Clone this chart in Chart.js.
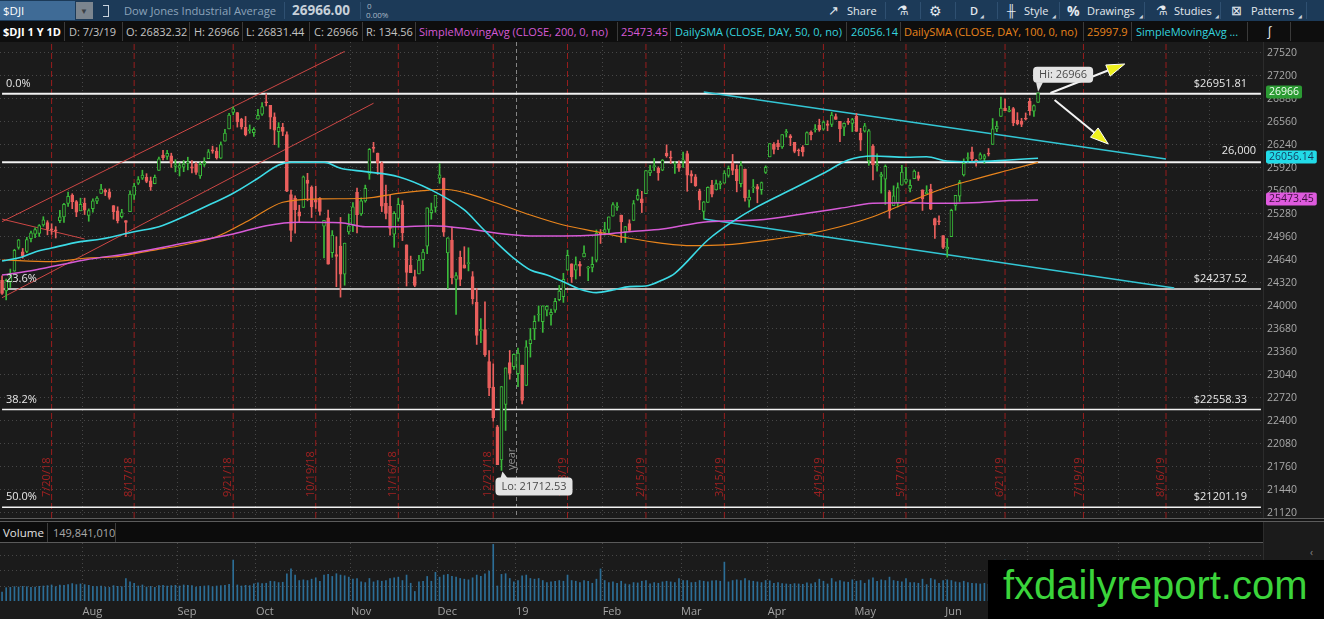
<!DOCTYPE html>
<html>
<head>
<meta charset="utf-8">
<title>$DJI 1 Y 1D</title>
<script src="https://cdn.jsdelivr.net/npm/chart.js"></script>
<style>
  body { margin: 0; width: 1324px; height: 619px; overflow: hidden; position: relative; background: #1b1b1b; font-family: 'Open Sans', sans-serif; }
  .a { position: absolute; white-space: nowrap; }
  .t1 { top: 0; line-height: 21px; font-size: 11px; color: #e3e9ef; }
  .t2 { top: 21px; line-height: 21px; font-size: 11px; color: #c4c4c4; }
  .d1 { top: 2px; width: 1px; height: 17px; background: #2f5071; }
  .d2 { top: 22px; width: 1px; height: 19px; background: #3a3a3a; }
  .mk { top: 13px; font-size: 5px; color: #c9d3dd; }
  canvas { position: absolute; left: 0; }
</style>
</head>
<body>
<!-- toolbar -->
<div class="a" style="left:0;top:0;width:1324px;height:21px;background:#1c3a58"></div>
<div class="a" style="left:0;top:1px;width:75px;height:19px;background:#3f6b96"></div>
<span class="a t1" style="left:3px;color:#fff;font-size:11.5px">$DJI</span>
<div class="a" style="left:76px;top:2px;width:17px;height:17px;background:#7b858f"></div>
<span class="a" style="left:80px;top:5px;font-size:8px;color:#3a4046">▼</span>
<div class="a" style="left:103px;top:5px;width:5px;height:10px;border:1px solid #c9d3dd;border-left:none"></div>
<span class="a t1" style="left:124px;color:#8ca3ba;font-size:11.2px">Dow Jones Industrial Average</span>
<div class="a d1" style="left:284px"></div>
<span class="a t1" id="lastPx" style="left:292px;font-weight:700;font-size:13.5px;color:#c7d0d9"></span>
<div class="a d1" style="left:360px"></div>
<span class="a" style="left:367px;top:0;font-size:8px;color:#a9b8c6">0</span>
<span class="a" style="left:366px;top:9px;font-size:8px;color:#a9b8c6">0.00%</span>

<span class="a t1" style="left:828px;font-size:13px">↗</span>
<span class="a t1" style="left:847px">Share</span>
<div class="a d1" style="left:885px"></div>
<span class="a t1" style="left:897px;font-size:13px">⚗</span>
<div class="a d1" style="left:920px"></div>
<span class="a t1" style="left:929px;font-size:14px">⚙</span>
<div class="a d1" style="left:955px"></div>
<span class="a t1" style="left:970px;font-weight:600">D</span>
<span class="a mk" style="left:980px">◢</span>
<div class="a d1" style="left:997px"></div>
<span class="a t1" style="left:1007px;font-size:12px">╫</span>
<span class="a t1" style="left:1024px">Style</span>
<span class="a mk" style="left:1052px">◢</span>
<div class="a d1" style="left:1059px"></div>
<span class="a t1" style="left:1067px;font-weight:700;font-size:14px">%</span>
<span class="a t1" style="left:1087px">Drawings</span>
<span class="a mk" style="left:1139px">◢</span>
<div class="a d1" style="left:1144px"></div>
<span class="a t1" style="left:1156px;font-size:13px">⚗</span>
<span class="a t1" style="left:1174px">Studies</span>
<span class="a mk" style="left:1215px">◢</span>
<div class="a d1" style="left:1220px"></div>
<span class="a t1" style="left:1231px;font-size:13px">⊠</span>
<span class="a t1" style="left:1251px">Patterns</span>
<span class="a mk" style="left:1298px">◢</span>
<div class="a d1" style="left:1306px"></div>

<!-- study header -->
<div class="a" style="left:0;top:21px;width:1324px;height:21px;background:#0e0e0e"></div>
<span class="a t2" style="left:3px;color:#fff;font-weight:700">$DJI 1 Y 1D</span>
<div class="a d2" style="left:64px"></div>
<span class="a t2" style="left:69px">D: 7/3/19</span>
<div class="a d2" style="left:122px"></div>
<span class="a t2" id="hO" style="left:126px"></span>
<div class="a d2" style="left:189px"></div>
<span class="a t2" id="hH" style="left:194px"></span>
<div class="a d2" style="left:242px"></div>
<span class="a t2" id="hL" style="left:246px"></span>
<div class="a d2" style="left:309px"></div>
<span class="a t2" id="hC" style="left:314px"></span>
<div class="a d2" style="left:362px"></div>
<span class="a t2" id="hR" style="left:366px"></span>
<div class="a d2" style="left:415px"></div>
<span class="a t2" style="left:419px;color:#d65ad6">SimpleMovingAvg (CLOSE, 200, 0, no)</span>
<div class="a d2" style="left:617px"></div>
<span class="a t2" id="h200" style="left:621px;color:#d65ad6"></span>
<div class="a d2" style="left:670px"></div>
<span class="a t2" style="left:675px;color:#35d3df">DailySMA (CLOSE, DAY, 50, 0, no)</span>
<div class="a d2" style="left:846px"></div>
<span class="a t2" id="h50" style="left:851px;color:#35d3df"></span>
<div class="a d2" style="left:900px"></div>
<span class="a t2" style="left:904px;color:#e8841c">DailySMA (CLOSE, DAY, 100, 0, no)</span>
<div class="a d2" style="left:1083px"></div>
<span class="a t2" id="h100" style="left:1087px;color:#e8841c"></span>
<div class="a d2" style="left:1131px"></div>
<span class="a t2" style="left:1136px;color:#35d3df">SimpleMovingAvg ...</span>
<div class="a d2" style="left:1247px"></div>
<span class="a t2" style="left:1267px;color:#eee;font-size:13px">∫</span>
<div class="a d2" style="left:1290px"></div>

<canvas id="main" width="1324" height="476" style="top:42px"></canvas>
<div class="a" style="left:1263px;top:42px;width:1px;height:577px;background:#2c2c2c"></div>

<!-- panel separator and volume header -->
<div class="a" style="left:0;top:518px;width:1324px;height:2px;border-top:1px solid #5c5c5c;border-bottom:1px solid #5c5c5c;background:#141414"></div>
<div class="a" style="left:0;top:522px;width:1263px;height:21px;background:#0c0c0c"></div>
<span class="a" style="left:3px;top:522px;line-height:21px;font-size:11.5px;color:#e2e2e2">Volume</span>
<div class="a" style="left:47px;top:523px;width:1px;height:19px;background:#3c3c3c"></div>
<span class="a" id="volHead" style="left:53px;top:522px;line-height:21px;font-size:11px;color:#a8a8a8"></span>
<div class="a" style="left:115px;top:523px;width:1px;height:19px;background:#3c3c3c"></div>
<div class="a" style="left:0;top:542px;width:1263px;height:1px;background:#5a5a5a"></div>
<span class="a" style="left:1310px;top:545px;font-size:10px;color:#8a8a8a">‹</span>

<canvas id="vol" width="1324" height="76" style="top:543px"></canvas>

<div class="a" style="left:988px;top:560px;width:336px;height:59px;background:#000">
  <div style="padding-left:15px;line-height:50px;font-family:'Liberation Sans',Arial,sans-serif;font-size:40px;color:#3bd43b">fxdailyreport.com</div>
</div>

<script>
// ---- calendar (trading days from 7/3/18, plus the empty expansion area) ----
const firstDay = '2018-07-03';
const barCount = 306;
const holidays = ['2018-07-04', '2018-09-03', '2018-11-22', '2018-12-05', '2018-12-25', '2019-01-01',
  '2019-01-21', '2019-02-18', '2019-04-19', '2019-05-27', '2019-07-04', '2019-09-02'];

// ---- daily OHLC, 7/3/18 .. 7/3/19 (one line per month) ----
const opens = [
  24357,24208,24335,24483,24816,24754,24760,24937,25000,25010,25129,25162,25070,25047,25187,25239,25427,25544,25451,25324,
  25429,25259,25353,25459,25565,25608,25588,25397,25324,25242,25189,25311,25543,25708,25780,25791,25740,25702,25886,26098,26082,26090,25941,
  25916,25932,25990,25935,25970,25809,25971,26051,26172,26155,26056,26292,26463,26694,26691,26602,26485,26439,26412,
  26598,26668,26833,26792,26633,26425,26487,26385,25551,25502,25310,25371,25752,25653,25470,25497,25111,25227,24741,24716,24832,24444,25029,
  25123,25581,25281,25461,25835,26207,26128,25989,25428,25388,25000,25219,25404,24851,24570,24409,24447,24643,24833,25300,25370,
  25779,25779,24740,24918,24370,24677,24572,24589,24409,24052,23653,23673,23225,22871,22317,21857,22629,23213,23154,
  23058,23177,22894,23474,23680,23874,23783,23940,23874,23943,24089,24130,24499,24587,24497,24578,24681,24526,24536,24636,25010,
  25025,25065,25250,25371,25265,25031,25146,25191,25482,25490,25564,25853,25940,25917,25890,26127,26072,25976,25976,
  26019,26122,25840,25798,25599,25314,25442,25682,25616,25693,25708,25817,25988,25902,25702,25904,25473,25641,25662,25617,25860,
  26075,26252,26263,26213,26409,26368,26277,26163,26208,26245,26420,26452,26513,26461,26534,26526,26635,26570,26488,26557,26541,
  26639,26406,26434,26018,26226,25948,25802,25763,25587,25397,25436,25681,25723,25636,25772,25815,25616,25563,25623,25215,25177,24978,
  24789,24964,25399,25528,25825,26052,26146,26027,26042,26052,26113,26248,26465,26637,26751,26707,26746,26586,26574,26609,
  26846,26712,26832.32
];
const highs = [
  24419,24375,24514,24789,24926,24800,24956,25043,25088,25132,25242,25187,25144,25104,25330,25428,25586,25562,25468,25500,
  25501,25351,25492,25521,25692,25629,25629,25397,25380,25345,25189,25602,25705,25800,25889,25841,25794,25822,26071,26167,26167,26126,26036,
  25992,26024,26070,26024,25996,26004,26063,26177,26224,26204,26283,26458,26680,26769,26693,26612,26637,26519,26482,
  26735,26829,26951.81,26792,26687,26551,26542,26424,25611,25531,25402,25809,25846,25671,25668,25510,25191,25335,25049,24963,25232,24875,25278,
  25438,25640,25504,25682,26191,26277,26128,26004,25681,25541,25313,25497,25464,24851,24694,24499,24705,24789,25366,25432,25538,
  25980,25780,24950,25097,24464,24764,24825,24810,24478,24243,23826,24058,23381,23194,22339,22879,23138,23381,23333,
  23413,23177,23518,23688,23864,24001,24002,24005,23957,24107,24286,24455,24777,24587,24683,24619,24836,24553,24682,25058,25064,
  25165,25239,25439,25439,25265,25106,25199,25468,25625,25595,25883,25956,26052,25936,26039,26242,26155,26009,26019,
  26143,26155,25883,25829,25625,25453,25659,25747,25751,25737,25883,25948,26109,25962,26010,25904,25612,25760,25692,25725,25950,
  26258,26275,26307,26385,26457,26386,26277,26185,26231,26422,26438,26524,26599,26576,26579,26695,26672,26570,26548,26610,26611,
  26680,26472,26541,26456,26245,26116,25861,25963,25607,25672,25713,25957,25928,25754,25893,25863,25616,25673,25694,25223,25255,24978,
  24938,25347,25539,25749,26047,26132,26210,26041,26131,26111,26191,26608,26571,26907,26880,26778,26763,26690,26611,26686,
  26890,26799,26966
];
const lows = [
  24161,24085,24257,24483,24790,24665,24741,24891,24952,24967,25109,24990,24996,24946,25158,25163,25386,25354,25243,25324,
  25273,25179,25305,25425,25565,25536,25486,25207,25155,25223,24965,25311,25483,25690,25760,25715,25608,25700,25886,26032,26040,25929,25865,
  25809,25869,25894,25853,25831,25775,25941,26051,26125,26043,26051,26292,26463,26659,26489,26462,26367,26403,26359,
  26598,26652,26783,26464,26245,26208,26370,25589,24897,25012,25158,25371,25463,25231,25357,25262,24668,24583,24677,24269,24123,24289,24999,
  25034,25018,25261,25444,25763,26139,25830,25313,25210,24985,24817,25179,24910,24278,24464,24268,24447,24491,24728,25207,25304,
  25706,24969,24242,24307,23881,24283,24527,24488,24027,23465,23490,23297,22751,22396,21792,21712.53,22268,22981,23118,
  22878,22639,22894,23289,23531,23788,23633,23862,23732,23910,24072,24050,24499,24327,24375,24418,24681,24351,24474,24612,24870,
  24987,25011,25250,25330,24884,24883,25033,25191,25470,25300,25564,25814,25883,25749,25882,26070,25983,25846,25872,
  25928,25596,25714,25663,25340,25208,25442,25519,25616,25628,25708,25792,25827,25588,25656,25460,25374,25577,25436,25554,25844,
  26075,26116,26175,26194,26351,26231,26131,26090,26085,26245,26311,26420,26431,26446,26438,26496,26596,26285,26369,26526,26426,
  26429,26163,26420,25957,25754,25875,25570,25412,25222,25397,25377,25681,25707,25586,25770,25747,25329,25563,25340,24939,25130,24796,
  24680,24964,25332,25455,25808,25996,26003,25947,26042,25983,26087,26248,26425,26637,26719,26701,26508,26520,26495,26587,
  26655,26639,26831.44
];
const closes = [
  24174,24357,24456,24776,24920,24700,24924,25019,25064,25120,25199,25064,25058,25044,25241,25414,25527,25451,25306,25415,
  25333,25326,25463,25502,25628,25583,25509,25313,25187,25299,25162,25558,25669,25758,25822,25733,25656,25790,26049,26064,26124,25986,25964,
  25952,25974,25995,25916,25857,25971,25998,26145,26154,26062,26246,26405,26657,26743,26562,26492,26385,26439,26458,
  26651,26774,26828,26627,26447,26487,26430,25599,25053,25340,25250,25798,25706,25380,25444,25317,25191,24583,24985,24688,24443,24875,25116,
  25380,25271,25462,25636,26180,26191,25989,25388,25287,25080,25289,25413,25017,24466,24464,24286,24640,24749,25366,25339,25538,
  25826,25027,24947,24389,24423,24370,24527,24597,24101,23592,23675,23323,22859,22445,21792,22878,23138,23062,23327,
  23346,22686,23433,23531,23787,23879,24001,23996,23910,24066,24207,24370,24706,24404,24575,24553,24737,24528,24580,25015,24999,
  25064,25239,25411,25390,25169,25106,25053,25426,25543,25439,25883,25891,25954,25850,26031,26092,26057,25985,25916,
  26026,25820,25806,25673,25473,25450,25650,25555,25702,25709,25849,25914,25887,25745,25962,25502,25516,25658,25626,25717,25929,
  26258,26180,26218,26385,26425,26341,26151,26157,26143,26412,26385,26453,26450,26559,26511,26656,26597,26462,26543,26554,26593,
  26430,26308,26505,26438,25965,25968,25828,25942,25325,25532,25648,25862,25764,25680,25877,25776,25490,25586,25347,25126,25170,24815,
  24820,25332,25539,25720,25984,26062,26049,26005,26107,26090,26112,26466,26504,26753,26719,26727,26548,26537,26526,26600,
  26718,26787,26966
];
// volume in millions of shares
const volumes = [
  130,195,200,210,205,215,210,200,205,215,220,225,235,210,235,230,240,255,240,250,
  240,230,215,210,220,205,200,225,215,210,330,280,260,220,235,205,215,200,225,230,220,225,230,
  220,235,230,225,205,215,220,225,210,220,225,230,245,600,235,220,230,225,250,
  265,255,260,290,285,270,275,400,470,380,300,310,300,320,340,290,380,390,360,400,380,370,350,
  320,330,280,270,330,280,300,290,300,330,340,350,300,380,260,140,280,290,360,290,420,
  350,380,390,360,350,330,320,310,340,380,360,400,440,830,220,390,400,330,280,
  300,370,380,330,320,330,300,270,280,290,300,290,380,300,290,270,300,290,260,320,470,
  300,270,280,260,290,250,240,270,265,290,300,250,270,260,280,290,280,270,330,
  300,300,270,275,300,290,280,295,300,290,570,280,300,310,300,330,300,290,280,270,300,
  295,260,270,255,250,245,255,250,245,265,250,270,320,290,250,330,280,300,280,275,310,
  290,300,260,310,340,290,310,300,350,300,290,280,330,270,270,260,320,240,330,310,260,300,
  310,300,280,270,290,270,260,255,250,260,245,290,270,300,600,250,290,280,270,400,
  300,260,149.84101
];

// ---- studies ----
const sma50 = [
  ['2018-07-03',24626],['2018-07-11',24686],['2018-07-16',24752],['2018-07-20',24807],['2018-07-31',24895],
  ['2018-08-07',24932],['2018-08-17',25034],['2018-08-27',25103],['2018-09-05',25242],['2018-09-14',25429],
  ['2018-09-21',25568],['2018-10-01',25777],['2018-10-08',25962],['2018-10-11',26000],['2018-10-23',26000],
  ['2018-10-29',25916],['2018-11-06',25869],['2018-11-16',25799],['2018-11-29',25614],['2018-12-12',25336],
  ['2018-12-18',25103],['2018-12-24',24872],['2018-12-31',24664],['2019-01-07',24501],['2019-01-11',24432],
  ['2019-01-17',24338],['2019-01-24',24233],['2019-01-30',24186],['2019-02-05',24223],['2019-02-11',24270],
  ['2019-02-15',24278],['2019-02-22',24362],['2019-02-27',24455],['2019-03-11',24918],['2019-03-19',25173],
  ['2019-03-27',25382],['2019-04-08',25614],['2019-04-18',25846],['2019-04-29',26031],['2019-05-07',26087],
  ['2019-05-17',26069],['2019-05-24',26077],['2019-06-03',26017],['2019-06-11',26007],['2019-06-24',26031],
  ['2019-07-03',26056.14]
];
const sma100 = [
  ['2018-07-03',24640],['2018-07-20',24617],['2018-08-01',24664],['2018-08-13',24686],['2018-08-23',24770],
  ['2018-09-05',24849],['2018-09-17',24965],['2018-09-27',25197],['2018-10-09',25443],['2018-10-22',25489],
  ['2018-11-06',25499],['2018-11-16',25568],['2018-11-27',25605],['2018-12-04',25624],['2018-12-12',25577],
  ['2018-12-24',25429],['2019-01-07',25266],['2019-01-17',25127],['2019-01-30',25034],['2019-02-11',24942],
  ['2019-02-22',24872],['2019-03-05',24839],['2019-03-15',24849],['2019-04-02',24928],['2019-04-12',24998],
  ['2019-04-25',25103],['2019-05-07',25242],['2019-05-17',25429],['2019-05-30',25614],['2019-06-11',25753],
  ['2019-06-24',25892],['2019-07-03',25997.9]
];
const sma200 = [
  ['2018-07-03',24431],['2018-07-16',24501],['2018-08-01',24640],['2018-08-17',24742],['2018-09-05',24872],
  ['2018-09-21',25002],['2018-10-03',25117],['2018-10-15',25164],['2018-10-29',25159],['2018-11-06',25103],
  ['2018-11-16',25103],['2018-11-29',25117],['2018-12-12',25081],['2018-12-24',25011],['2019-01-07',24974],
  ['2019-01-17',24974],['2019-01-30',24988],['2019-02-11',25034],['2019-02-22',25071],['2019-03-11',25173],
  ['2019-03-27',25197],['2019-04-12',25290],['2019-04-25',25359],['2019-05-07',25429],['2019-05-17',25438],
  ['2019-05-30',25429],['2019-06-11',25438],['2019-06-24',25466],['2019-07-03',25473.45]
];

// ---- drawings ----
const fibLevels = [26951.81, 24237.52, 22558.33, 21201.19];
const fibPercents = ['0.0%', '23.6%', '38.2%', '50.0%'];
const supportLevel = 26000;
// [start, end] as [date, price]
const redChannel = [
  [['2018-07-03', 25173], ['2018-10-30', 27542]],
  [['2018-07-03', 24115], ['2018-11-08', 26821]],
  [['2018-07-03', 25209], ['2018-08-01', 24932]]
];
const cyanChannel = [
  [['2019-03-08', 26977], ['2019-08-16', 26045]],
  [['2019-03-08', 25210], ['2019-08-20', 24250]]
];
const arrows = [
  [['2019-07-09', 26963], ['2019-08-02', 27367]],
  [['2019-07-10', 26866], ['2019-07-29', 26254]]
];
// option expirations (4/19/19 was Good Friday, line sits on the 4/18 bar)
const expiryPos = ['2018-07-20','2018-08-17','2018-09-21','2018-10-19','2018-11-16','2018-12-21','2019-01-18',
  '2019-02-15','2019-03-15','2019-04-18','2019-05-17','2019-06-21','2019-07-19','2019-08-16'];
const expiryText = ['7/20/18','8/17/18','9/21/18','10/19/18','11/16/18','12/21/18','1/18/19',
  '2/15/19','3/15/19','4/19/19','5/17/19','6/21/19','7/19/19','8/16/19'];
const yearStart = '2019-01-02';

// ---- axes ----
const priceMin = 21050, priceMax = 27673;
const priceTicks = [21120,21440,21760,22080,22400,22720,23040,23360,23680,24000,24320,
  24640,24960,25280,25600,25920,26240,26560,26880,27200,27520];
const volumeMax = 850;
const volumeTicks = [215, 440, 660];
const monthTicks = ['2018-08-01','2018-09-04','2018-10-01','2018-11-01','2018-12-03','2019-01-02','2019-02-01',
  '2019-03-01','2019-04-01','2019-05-01','2019-06-03','2019-07-01','2019-08-01','2019-09-03'];
const monthTickLabels = ['Aug','Sep','Oct','Nov','Dec','19','Feb','Mar','Apr','May','Jun','Jul','Aug','Sep'];

function buildDates() {
  const out = [];
  const d = new Date(firstDay + 'T00:00:00Z');
  while (out.length < barCount) {
    const s = d.toISOString().slice(0, 10);
    const wd = d.getUTCDay();
    if (wd !== 0 && wd !== 6 && !holidays.includes(s)) out.push(s);
    d.setUTCDate(d.getUTCDate() + 1);
  }
  return out;
}

const dates = buildDates();
const at = d => dates.indexOf(d);
const last = closes.length - 1;

// header texts
document.getElementById('lastPx').textContent = closes[last].toFixed(2);
document.getElementById('hO').textContent = 'O: ' + opens[last];
document.getElementById('hH').textContent = 'H: ' + highs[last];
document.getElementById('hL').textContent = 'L: ' + lows[last];
document.getElementById('hC').textContent = 'C: ' + closes[last];
document.getElementById('hR').textContent = 'R: ' + (highs[last] - lows[last]).toFixed(2);
document.getElementById('h200').textContent = sma200[sma200.length - 1][1];
document.getElementById('h50').textContent = sma50[sma50.length - 1][1];
document.getElementById('h100').textContent = sma100[sma100.length - 1][1];
document.getElementById('volHead').textContent = Math.round(volumes[last] * 1e6).toLocaleString('en-US');

Chart.defaults.font.family = "'Open Sans', sans-serif";
Chart.defaults.font.size = 10.5;

const chartBg = '#1b1b1b';
const upColor = '#3aba3a';
const downColor = '#e95f5d';
const gridColor = '#474747';
const candleColor = closes.map((c, k) => c >= opens[k] ? upColor : downColor);
const bodyFill = closes.map((c, k) => c >= opens[k] ? chartBg : downColor);

function toPoints(list) {
  return list.map(p => ({ x: p[0], y: p[1] }));
}
function lineSet(data, color, width, order, extra) {
  return Object.assign({ type: 'line', data, borderColor: color, borderWidth: width, pointRadius: 0,
    fill: false, tension: 0, order }, extra || {});
}

const datasets = [];
expiryPos.forEach(d => datasets.push(lineSet([{ x: d, y: priceMin }, { x: d, y: priceMax }],
  'rgba(165,30,30,0.9)', 1, 20, { borderDash: [6, 3] })));
fibLevels.forEach((v, k) => datasets.push(lineSet(toPoints([[dates[0], v], [dates[barCount - 1], v]]),
  '#f2f2f2', k === 0 ? 2 : 1.5, 15)));
datasets.push(lineSet(toPoints([[dates[0], supportLevel], [dates[barCount - 1], supportLevel]]), '#f2f2f2', 2, 15));
redChannel.forEach(s => datasets.push(lineSet(toPoints(s), '#cd4745', 1, 12)));
cyanChannel.forEach(s => datasets.push(lineSet(toPoints(s), '#33c6d4', 1.5, 12)));
datasets.push({ type: 'bar', data: lows.map((l, k) => [l, highs[k]]), backgroundColor: candleColor,
  barThickness: 1, grouped: false, order: 8 });
datasets.push({ type: 'bar', data: opens.map((o, k) => [o, closes[k]]), backgroundColor: bodyFill,
  borderColor: candleColor, borderWidth: 1, borderSkipped: false, barThickness: 3, minBarLength: 1,
  grouped: false, order: 7 });
const smooth = { cubicInterpolationMode: 'monotone' };
datasets.push(lineSet(toPoints(sma200), '#d65ad6', 1.5, 3, smooth));
datasets.push(lineSet(toPoints(sma100), '#e8841c', 1.2, 3, smooth));
datasets.push(lineSet(toPoints(sma50), '#3cdbe6', 1.6, 2, smooth));

function rotText(ctx, text, x, y, color) {
  ctx.save();
  ctx.translate(x, y);
  ctx.rotate(-Math.PI / 2);
  ctx.fillStyle = color;
  ctx.textAlign = 'left';
  ctx.textBaseline = 'middle';
  ctx.fillText(text, 0, 0);
  ctx.restore();
}

function arrow(ctx, x1, y1, x2, y2) {
  const ang = Math.atan2(y2 - y1, x2 - x1);
  const hl = 18, hw = 6;
  const bx = x2 - hl * Math.cos(ang), by = y2 - hl * Math.sin(ang);
  ctx.strokeStyle = '#f4f4f4';
  ctx.lineWidth = 2;
  ctx.beginPath(); ctx.moveTo(x1, y1); ctx.lineTo(bx, by); ctx.stroke();
  ctx.beginPath();
  ctx.moveTo(x2, y2);
  ctx.lineTo(bx + hw * Math.sin(ang), by - hw * Math.cos(ang));
  ctx.lineTo(bx - hw * Math.sin(ang), by + hw * Math.cos(ang));
  ctx.closePath();
  ctx.fillStyle = '#eef01e';
  ctx.fill();
  ctx.lineWidth = 1;
  ctx.strokeStyle = '#ffffff';
  ctx.stroke();
}

function bubble(ctx, bx, by, text, h, tip) {
  const w = ctx.measureText(text).width + 12;
  ctx.fillStyle = '#e3e3e3';
  ctx.beginPath(); ctx.roundRect(bx, by, w, h, 4); ctx.fill();
  ctx.beginPath();
  ctx.moveTo(tip[0][0], tip[0][1]); ctx.lineTo(tip[1][0], tip[1][1]); ctx.lineTo(tip[2][0], tip[2][1]);
  ctx.closePath(); ctx.fill();
  ctx.fillStyle = '#4a4a4a';
  ctx.textAlign = 'left';
  ctx.textBaseline = 'middle';
  ctx.fillText(text, bx + 6, by + h / 2 + 0.5);
}

const overlay = {
  id: 'overlay',
  beforeDatasetsDraw(chart) {
    const { ctx, chartArea: a, scales: { x } } = chart;
    ctx.save();
    ctx.font = '11px "Open Sans"';
    const ys = at(yearStart);
    const xm = Math.round((x.getPixelForValue(ys) + x.getPixelForValue(ys - 1)) / 2) + 0.5;
    ctx.strokeStyle = '#858585';
    ctx.lineWidth = 1;
    ctx.setLineDash([4, 3]);
    ctx.beginPath(); ctx.moveTo(xm, a.top); ctx.lineTo(xm, a.bottom); ctx.stroke();
    ctx.setLineDash([]);
    rotText(ctx, 'year', xm - 5, a.bottom - 48, '#8e8e8e');
    expiryPos.forEach((d, k) => rotText(ctx, expiryText[k], x.getPixelForValue(at(d)) - 5, a.bottom - 21, 'rgba(168,34,34,0.95)'));
    ctx.restore();
  },
  afterDatasetsDraw(chart) {
    const { ctx, chartArea: a, scales: { x, y } } = chart;
    ctx.save();
    ctx.font = '11px "Open Sans"';
    ctx.textBaseline = 'middle';
    ctx.fillStyle = '#e8e8e8';
    fibLevels.forEach((v, k) => {
      const py = y.getPixelForValue(v);
      ctx.textAlign = 'left';
      ctx.fillText(fibPercents[k], a.left + 6, py - 10);
      ctx.textAlign = 'right';
      ctx.fillText('$' + v.toFixed(2), a.right - 16, py - 10);
    });
    ctx.fillText(supportLevel.toLocaleString('en-US'), a.right - 7, y.getPixelForValue(supportLevel) - 11);

    arrows.forEach(([p, q]) => arrow(ctx, x.getPixelForValue(at(p[0])), y.getPixelForValue(p[1]),
      x.getPixelForValue(at(q[0])), y.getPixelForValue(q[1])));

    const hiIdx = highs.indexOf(Math.max(...highs));
    const loIdx = lows.indexOf(Math.min(...lows));
    const hx = x.getPixelForValue(hiIdx), hy = y.getPixelForValue(highs[hiIdx]);
    const lx = x.getPixelForValue(loIdx), ly = y.getPixelForValue(lows[loIdx]);
    bubble(ctx, hx - 5, hy - 26, 'Hi: ' + highs[hiIdx], 16, [[hx - 2, hy - 10.5], [hx + 5, hy - 10.5], [hx, hy - 1]]);
    bubble(ctx, lx - 6, ly + 7, 'Lo: ' + lows[loIdx].toFixed(2), 18, [[lx - 1, ly + 7.5], [lx + 6, ly + 7.5], [lx + 1, ly + 1]]);

    const tags = [
      [closes[last], '#2c9b34', '#f2fff2', String(closes[last])],
      [sma50[sma50.length - 1][1], '#22dbe8', '#153a5e', sma50[sma50.length - 1][1].toFixed(2)],
      [sma200[sma200.length - 1][1], '#de5ade', '#3d0f3d', sma200[sma200.length - 1][1].toFixed(2)]
    ];
    ctx.font = '10.5px "Open Sans"';
    tags.forEach(([v, bg, fg, txt]) => {
      const py = Math.round(y.getPixelForValue(v)) - 1;
      const w = ctx.measureText(txt).width + 6;
      ctx.fillStyle = bg;
      ctx.beginPath(); ctx.roundRect(a.right + 3, py - 6.5, w, 13, 2); ctx.fill();
      ctx.fillStyle = fg;
      ctx.textAlign = 'left';
      ctx.fillText(txt, a.right + 6, py + 0.5);
    });
    ctx.restore();
  }
};

const mainMonthIdx = new Set(monthTicks.filter(d => d !== yearStart).map(at));
const volMonthIdx = new Set(monthTicks.map(at));

new Chart(document.getElementById('main'), {
  type: 'bar',
  data: { labels: dates, datasets },
  options: {
    responsive: false,
    animation: false,
    events: [],
    layout: { padding: 0 },
    plugins: { legend: { display: false }, tooltip: { enabled: false } },
    scales: {
      x: {
        offset: true,
        grid: { offset: true, drawTicks: false, color: c => mainMonthIdx.has(c.index) ? gridColor : 'rgba(0,0,0,0)' },
        border: { display: false, dash: [1, 3] },
        ticks: { display: false },
        afterFit: s => { s.height = 0; s.paddingLeft = 0; s.paddingRight = 0; }
      },
      y: {
        position: 'right',
        min: priceMin,
        max: priceMax,
        afterBuildTicks: s => { s.ticks = priceTicks.map(v => ({ value: v })); },
        grid: { color: gridColor, drawTicks: false },
        border: { display: false, dash: [1, 3] },
        ticks: { color: '#a9a9a9', padding: 4, callback: v => String(v) },
        afterFit: s => { s.width = 61; s.paddingTop = 0; s.paddingBottom = 0; }
      }
    }
  },
  plugins: [overlay]
});

new Chart(document.getElementById('vol'), {
  type: 'bar',
  data: {
    labels: dates,
    datasets: [{ data: volumes, backgroundColor: '#2c6e97', barThickness: 1 }]
  },
  options: {
    responsive: false,
    animation: false,
    events: [],
    layout: { padding: 0 },
    plugins: { legend: { display: false }, tooltip: { enabled: false } },
    scales: {
      x: {
        offset: true,
        grid: { offset: true, drawTicks: false, color: c => volMonthIdx.has(c.index) ? gridColor : 'rgba(0,0,0,0)' },
        border: { display: false, dash: [1, 3] },
        ticks: {
          autoSkip: false, maxRotation: 0, minRotation: 0, align: 'start', labelOffset: -2, padding: 4,
          color: '#a3a3a3', font: { size: 11 },
          callback: (v, i) => { const k = monthTicks.indexOf(dates[i]); return k >= 0 ? monthTickLabels[k] : ''; }
        },
        afterFit: s => { s.height = 18; s.paddingLeft = 0; s.paddingRight = 0; }
      },
      y: {
        position: 'right',
        min: 0,
        max: volumeMax,
        afterBuildTicks: s => { s.ticks = volumeTicks.map(v => ({ value: v })); },
        grid: { color: gridColor, drawTicks: false },
        border: { display: false, dash: [1, 3] },
        ticks: { display: false },
        afterFit: s => { s.width = 61; s.paddingTop = 0; s.paddingBottom = 0; }
      }
    }
  }
});
</script>
</body>
</html>
